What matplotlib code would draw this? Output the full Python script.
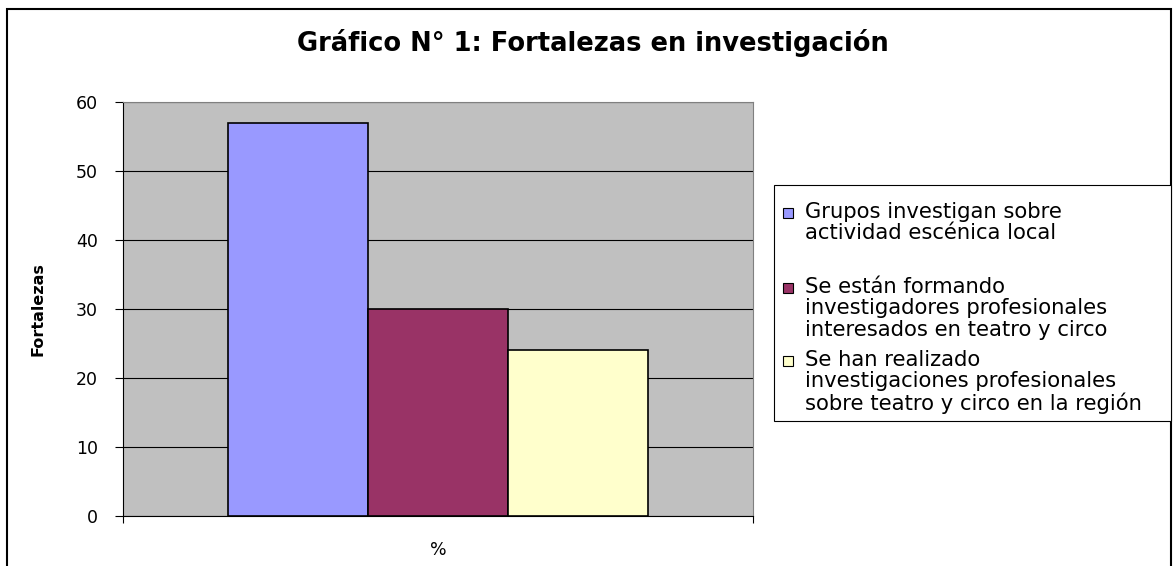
import matplotlib.pyplot as plt
from matplotlib.patches import Rectangle

# data
categories = ["%"]
labels = [
    "Grupos investigan sobre\nactividad escénica local",
    "Se están formando\ninvestigadores profesionales\ninteresados en teatro y circo",
    "Se han realizado\ninvestigaciones profesionales\nsobre teatro y circo en la región",
]
values = [57, 30, 24]
colors = ["#9999FF", "#993366", "#FFFFCC"]

W, H = 1176, 566
plt.rcParams['font.family'] = ['DejaVu Sans']

fig = plt.figure(figsize=(W / 100, H / 100), dpi=100)

# chart area border (Excel style)
fig.patches.append(Rectangle((7 / W, -0.05), (1171 - 7) / W, 1.05 - 9 / H,
                             transform=fig.transFigure, fill=False,
                             edgecolor="black", linewidth=1.5, zorder=0))

ax = fig.add_axes([123 / W, 50 / H, 630 / W, 414 / H])
ax.set_facecolor("#C0C0C0")

xpos = [i - (len(values) - 1) / 2 for i in range(len(values))]
for x, v, c in zip(xpos, values, colors):
    ax.bar(x, v, width=1.0, color=c, edgecolor="black", linewidth=1.2, zorder=3)

ax.set_xlim(-2.25, 2.25)
ax.set_ylim(0, 60)
ax.set_yticks(range(0, 61, 10))
ax.yaxis.grid(True, color="black", linewidth=0.8, zorder=1)
ax.set_axisbelow(True)

ax.tick_params(axis="y", direction="out", length=6, width=0.8, pad=12, labelsize=12.5)
ax.set_xticks([0])
ax.set_xticklabels(categories)
ax.tick_params(axis="x", length=0, pad=18, labelsize=12.5)
ax.set_xticks([-2.25, 2.25], minor=True)
ax.tick_params(axis="x", which="minor", direction="out", length=5, width=0.8)

for s in ["top", "right"]:
    ax.spines[s].set_color("#808080")
for s in ["left", "bottom"]:
    ax.spines[s].set_color("black")
    ax.spines[s].set_linewidth(0.8)

ax.set_ylabel("Fortalezas", fontsize=11.5, fontweight="bold")
ax.yaxis.set_label_coords((45 - 123) / 630, 0.5)

fig.text(593 / W, 1 - 43 / H, "Gráfico N° 1: Fortalezas en investigación",
         ha="center", va="center", fontsize=18.5, fontweight="bold")

# legend box drawn like the Excel one
fig.patches.append(Rectangle((774 / W, 1 - 421 / H), (1171 - 774) / W, (421 - 185) / H,
                             transform=fig.transFigure, facecolor="white",
                             edgecolor="black", linewidth=0.8))
entry_y = [213, 288, 361]
for lab, c, y in zip(labels, colors, entry_y):
    fig.patches.append(Rectangle((783 / W, 1 - (y + 5) / H), 10 / W, 10 / H,
                                 transform=fig.transFigure, facecolor=c,
                                 edgecolor="black", linewidth=0.8))
    fig.text(805 / W, 1 - (y - 11) / H, lab, ha="left", va="top",
             fontsize=15.2, linespacing=1.08)

fig.savefig("out.png", dpi=100)
